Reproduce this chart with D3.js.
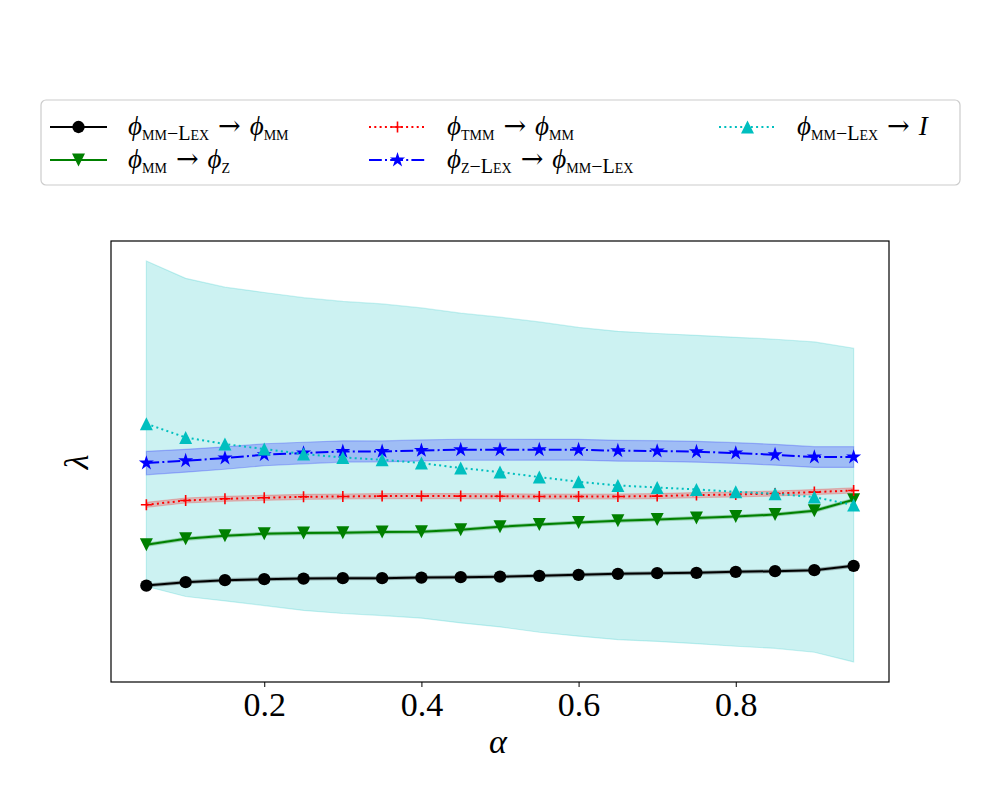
<!DOCTYPE html>
<html>
  <head>
    <title>lambda vs alpha</title>
    <script src="https://d3js.org/d3.v7.min.js"></script>
    <style>
      body { margin: 0; background: #fff; }
      text { font-family: "Liberation Serif", "DejaVu Serif", serif; }
    </style>
  </head>
  <body>
    <svg width="1000" height="800"></svg>
    <script>
      // alpha grid
      const alphas = [0.05, 0.10, 0.15, 0.20, 0.25, 0.30, 0.35, 0.40, 0.45, 0.50,
                      0.55, 0.60, 0.65, 0.70, 0.75, 0.80, 0.85, 0.90, 0.95];

      // series means (lambda, arbitrary units)
      const mmLexToMM = [1.143, 1.177, 1.197, 1.207, 1.213, 1.217, 1.217, 1.223, 1.227, 1.232,
                         1.240, 1.250, 1.260, 1.267, 1.270, 1.280, 1.287, 1.297, 1.340];
      const mmToZ = [1.550, 1.610, 1.640, 1.660, 1.667, 1.670, 1.677, 1.680, 1.700, 1.730,
                     1.753, 1.773, 1.790, 1.803, 1.817, 1.833, 1.853, 1.890, 2.000];
      const tmmToMM = [1.950, 1.993, 2.010, 2.020, 2.030, 2.033, 2.037, 2.037, 2.037, 2.035,
                       2.033, 2.033, 2.033, 2.037, 2.047, 2.053, 2.063, 2.077, 2.093];
      const zLexToMMLex = [2.367, 2.390, 2.417, 2.450, 2.467, 2.483, 2.483, 2.493, 2.500, 2.500,
                           2.500, 2.500, 2.490, 2.487, 2.480, 2.467, 2.450, 2.427, 2.427];
      const mmLexToI = [2.760, 2.623, 2.557, 2.507, 2.457, 2.423, 2.400, 2.367, 2.317, 2.277,
                        2.227, 2.180, 2.143, 2.123, 2.103, 2.080, 2.060, 2.027, 1.947];

      // standard deviations (shaded bands)
      const mmLexToMMStd = [0.015, 0.015, 0.015, 0.015, 0.015, 0.015, 0.015, 0.015, 0.015, 0.015,
                            0.015, 0.015, 0.015, 0.015, 0.015, 0.015, 0.015, 0.015, 0.015];
      const mmToZStd = [0.015, 0.015, 0.015, 0.015, 0.015, 0.015, 0.015, 0.015, 0.015, 0.015,
                        0.015, 0.015, 0.015, 0.015, 0.015, 0.015, 0.015, 0.015, 0.015];
      const tmmToMMStd = [0.025, 0.025, 0.025, 0.025, 0.025, 0.025, 0.025, 0.025, 0.025, 0.025,
                          0.025, 0.025, 0.025, 0.025, 0.025, 0.025, 0.025, 0.025, 0.025];
      const zLexToMMLexStd = [0.117, 0.114, 0.112, 0.110, 0.108, 0.106, 0.105, 0.105, 0.105, 0.105,
                              0.104, 0.104, 0.104, 0.104, 0.104, 0.104, 0.104, 0.104, 0.104];
      const mmLexToIStd = [1.625, 1.589, 1.567, 1.564, 1.562, 1.559, 1.557, 1.550, 1.547, 1.547,
                           1.550, 1.542, 1.540, 1.538, 1.540, 1.543, 1.544, 1.550, 1.567];

      const xTicks = [0.2, 0.4, 0.6, 0.8];

      // legend labels: [base, subscript] pairs
      const labels = [
        [["ϕ", "mm−Lex"], "→", ["ϕ", "mm"]],
        [["ϕ", "mm"], "→", ["ϕ", "z"]],
        [["ϕ", "tmm"], "→", ["ϕ", "mm"]],
        [["ϕ", "z−Lex"], "→", ["ϕ", "mm−Lex"]],
        [["ϕ", "mm−Lex"], "→", ["I", ""]]
      ];

      const series = [
        {mean: mmLexToMM, std: mmLexToMMStd, color: "#000000", dash: null, marker: "circle", label: labels[0]},
        {mean: mmToZ, std: mmToZStd, color: "#008000", dash: null, marker: "tridown", label: labels[1]},
        {mean: tmmToMM, std: tmmToMMStd, color: "#ff0000", dash: "2,3.3", marker: "plus", label: labels[2]},
        {mean: zLexToMMLex, std: zLexToMMLexStd, color: "#0000ff", dash: "12.8,3.2,2,3.2", marker: "star", label: labels[3]},
        {mean: mmLexToI, std: mmLexToIStd, color: "#00bfbf", dash: "2,3.3", marker: "triup", label: labels[4]}
      ];

      const svg = d3.select("svg");
      const mLeft = 111, mRight = 889, mTop = 241, mBottom = 682;

      const x = d3.scaleLinear().domain([0.005, 0.995]).range([mLeft, mRight]);

      const lo = d3.min(series, s => d3.min(s.mean, (m, i) => m - s.std[i]));
      const hi = d3.max(series, s => d3.max(s.mean, (m, i) => m + s.std[i]));
      const pad = (hi - lo) * 0.05;
      const y = d3.scaleLinear().domain([lo - pad, hi + pad]).range([mBottom, mTop]);

      const symbols = {
        circle: d3.symbol().type(d3.symbolCircle).size(120),
        star: d3.symbol().type(d3.symbolStar).size(70)
      };

      function drawMarker(g, kind, cx, cy, color) {
        if (kind === "plus") {
          g.append("path")
            .attr("d", `M${cx - 5.5},${cy}H${cx + 5.5}M${cx},${cy - 5.5}V${cy + 5.5}`)
            .attr("stroke", color).attr("stroke-width", 1.6).attr("fill", "none");
        } else if (kind === "triup" || kind === "tridown") {
          const s = 6.5, sgn = kind === "triup" ? 1 : -1;
          g.append("path")
            .attr("d", `M${cx},${cy - sgn * s}L${cx + s},${cy + sgn * s}L${cx - s},${cy + sgn * s}Z`)
            .attr("fill", color);
        } else {
          g.append("path").attr("d", symbols[kind]())
            .attr("transform", `translate(${cx},${cy})`)
            .attr("fill", color);
        }
      }

      const plot = svg.append("g");

      // bands first
      const area = d3.area()
        .x((d, i) => x(alphas[i]))
        .y0(d => y(d[0]))
        .y1(d => y(d[1]));
      const bandOrder = [4, 3, 2, 1, 0];
      bandOrder.forEach(k => {
        const s = series[k];
        plot.append("path")
          .datum(s.mean.map((m, i) => [m - s.std[i], m + s.std[i]]))
          .attr("d", area)
          .attr("fill", s.color)
          .attr("fill-opacity", k === 4 ? 0.2 : 0.22)
          .attr("stroke", s.color)
          .attr("stroke-opacity", k === 4 ? 0.2 : 0.22)
          .attr("stroke-width", 1.2);
      });

      const line = d3.line().x((d, i) => x(alphas[i])).y(d => y(d));
      series.forEach(s => {
        plot.append("path")
          .datum(s.mean)
          .attr("d", line)
          .attr("fill", "none")
          .attr("stroke", s.color)
          .attr("stroke-width", 2)
          .attr("stroke-dasharray", s.dash);
        s.mean.forEach((m, i) => drawMarker(plot, s.marker, x(alphas[i]), y(m), s.color));
      });

      // frame
      svg.append("rect")
        .attr("x", mLeft).attr("y", mTop)
        .attr("width", mRight - mLeft).attr("height", mBottom - mTop)
        .attr("fill", "none").attr("stroke", "#000").attr("stroke-width", 1.2);

      const xAxis = svg.append("g")
        .attr("transform", `translate(0,${mBottom})`)
        .call(d3.axisBottom(x).tickValues(xTicks).tickSize(5).tickPadding(5).tickFormat(d3.format(".1f")));
      xAxis.select(".domain").remove();
      xAxis.selectAll("line").attr("stroke", "#000").attr("stroke-width", 1);
      xAxis.selectAll("text").attr("font-size", 34).attr("fill", "#000")
        .style("font-family", '"Liberation Serif", serif');

      svg.append("text")
        .attr("x", (mLeft + mRight) / 2 - 2).attr("y", 753)
        .attr("text-anchor", "middle")
        .attr("font-size", 34).attr("font-style", "italic")
        .text("α");

      svg.append("text")
        .attr("transform", `translate(88,462) rotate(-90)`)
        .attr("text-anchor", "middle")
        .attr("font-size", 34).attr("font-style", "italic")
        .text("λ");

      // legend
      const legend = svg.append("g");
      legend.append("rect")
        .attr("x", 41).attr("y", 100).attr("width", 919).attr("height", 85)
        .attr("rx", 5).attr("fill", "#fff").attr("stroke", "#cccccc").attr("stroke-width", 1.2);

      const colX = [50, 369, 719];
      const rowY = [127, 160];
      series.forEach((s, k) => {
        const cx = colX[Math.floor(k / 2)], cy = rowY[k % 2];
        legend.append("line")
          .attr("x1", cx).attr("x2", cx + 57).attr("y1", cy).attr("y2", cy)
          .attr("stroke", s.color).attr("stroke-width", 2)
          .attr("stroke-dasharray", s.dash);
        drawMarker(legend, s.marker, cx + 28.5, cy, s.color);

        const t = legend.append("text")
          .attr("x", cx + 78).attr("y", cy + 8)
          .attr("font-size", 27);
        let back = 0;
        s.label.forEach(part => {
          if (typeof part === "string") {
            t.append("tspan").attr("dy", back).attr("dx", 9)
              .style("font-family", '"DejaVu Serif", serif')
              .text(part);
            back = 0;
          } else {
            t.append("tspan").attr("dy", back).attr("dx", back === 0 && part !== s.label[0] ? 9 : 0)
              .attr("font-style", "italic").text(part[0]);
            back = 0;
            if (part[1]) {
              t.append("tspan")
                .attr("font-size", 20).attr("dy", 5)
                .style("font-variant", "small-caps")
                .text(part[1]);
              back = -5;
            }
          }
        });
      });
    </script>
  </body>
</html>
